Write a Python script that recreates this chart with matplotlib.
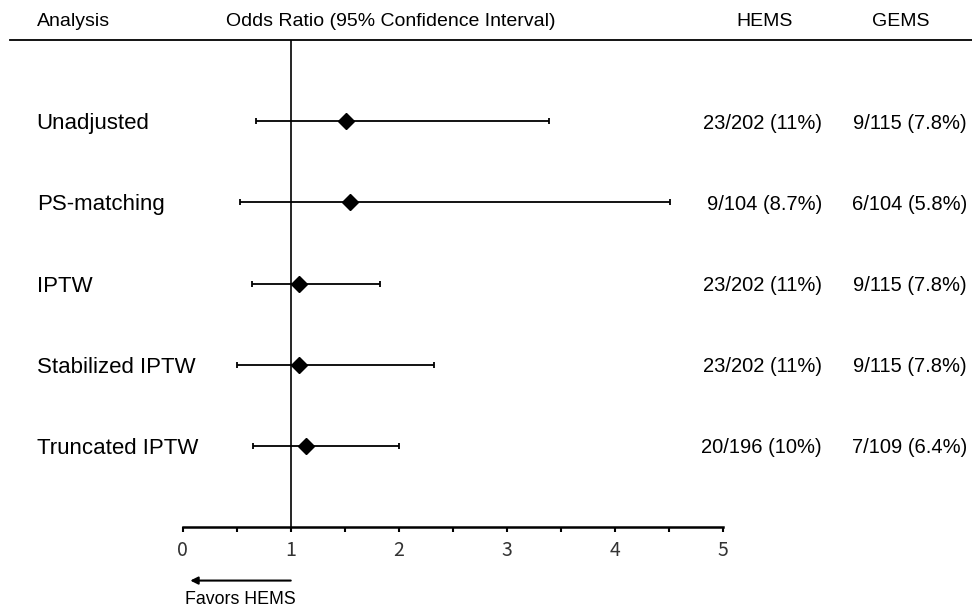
import matplotlib.pyplot as plt
import matplotlib.transforms as mtransforms
import numpy as np

# data
analyses = ["Unadjusted", "PS-matching", "IPTW", "Stabilized IPTW", "Truncated IPTW"]
odds = [1.51, 1.55, 1.08, 1.08, 1.14]
lower = [0.68, 0.53, 0.64, 0.50, 0.65]
upper = [3.39, 4.51, 1.83, 2.33, 2.00]
hems = ["23/202 (11%)", "9/104 (8.7%)", "23/202 (11%)", "23/202 (11%)", "20/196 (10%)"]
gems = ["9/115 (7.8%)", "6/104 (5.8%)", "9/115 (7.8%)", "9/115 (7.8%)", "7/109 (6.4%)"]
xticks = [0, 1, 2, 3, 4, 5]

plt.rcParams['font.family'] = ['Liberation Sans', 'DejaVu Sans']

fig = plt.figure(figsize=(9.72, 6.13), dpi=100)
ax = fig.add_axes([182.7 / 972, 86 / 613, 540.3 / 972, 487 / 613])

ypos = np.arange(len(analyses), 0, -1)
odds = np.array(odds)
lower = np.array(lower)
upper = np.array(upper)

ax.axvline(1, color="black", lw=1.2, zorder=1)
ax.errorbar(odds, ypos, xerr=[odds - lower, upper - odds], fmt="none",
            ecolor="black", elinewidth=1.3, capsize=2.5, capthick=1.3, zorder=2)
ax.plot(odds, ypos, "D", color="black", markersize=8, zorder=3)

ax.set_xlim(0, 5)
ax.set_ylim(0, 6)
for s in ["top", "right", "left"]:
    ax.spines[s].set_visible(False)
ax.spines["bottom"].set_linewidth(1.8)
ax.set_yticks([])
ax.set_xticks(xticks)
ax.set_xticks(np.arange(0.5, 5, 1), minor=True)
ax.tick_params(axis="x", which="both", length=3.5, width=1.5, pad=6,
               labelsize=14, labelcolor="#333333")
for lab in ax.get_xticklabels():
    lab.set_family(["Noto Sans CJK JP", "DejaVu Sans"])

# row labels and counts
trans = mtransforms.blended_transform_factory(fig.transFigure, ax.transData)
for y, name, h, g in zip(ypos, analyses, hems, gems):
    ax.text(36.7 / 972, y, name, transform=trans, fontsize=16, va="center_baseline", ha="left")
    ax.text(822 / 972, y, h, transform=trans, fontsize=14.5, va="center_baseline", ha="right")
    ax.text(967 / 972, y, g, transform=trans, fontsize=14.5, va="center_baseline", ha="right")

# header
hy = 1 - 20 / 613
fig.text(36.7 / 972, hy, "Analysis", fontsize=14, va="center_baseline", ha="left")
fig.text(225.7 / 972, hy, "Odds Ratio (95% Confidence Interval)", fontsize=14,
         va="center_baseline", ha="left")
fig.text(765 / 972, hy, "HEMS", fontsize=14, va="center_baseline", ha="center")
fig.text(901 / 972, hy, "GEMS", fontsize=14, va="center_baseline", ha="center")
fig.add_artist(plt.Line2D([10 / 972, 1], [1 - 39.5 / 613] * 2, transform=fig.transFigure,
                          color="black", lw=1.3))

# favors arrow
xt = ax.get_xaxis_transform()
ax.annotate("", xy=(0.07, -0.110), xytext=(1, -0.110), xycoords=xt, textcoords=xt,
            arrowprops=dict(arrowstyle="-|>", color="black", lw=1.5, mutation_scale=11,
                            shrinkA=0, shrinkB=0))
ax.text(0.02, -0.148, "Favors HEMS", transform=xt, fontsize=12.8, va="center", ha="left")

fig.savefig("out.png", dpi=100)
